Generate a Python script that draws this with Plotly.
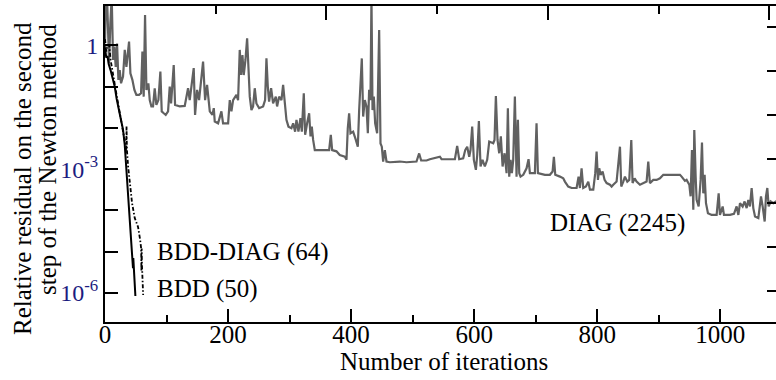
import plotly.graph_objects as go

# ---- data ----
diag_points = [
    (0, 1.12), (1.2, 7.1), (3.3, 15), (5.0, 0.77), (6.6, 0.37), (8.7, 3.4), (10.9, 15),
    (13.1, 0.44), (15.2, 0.93), (17.4, 0.30), (19.6, 1.1), (21.8, 0.145), (23.9, 0.25),
    (26.1, 0.12), (29.3, 0.174), (32.1, 0.77), (34.8, 0.30), (39.1, 1.22), (41.3, 0.21),
    (44.5, 0.145), (47.8, 0.083), (51.0, 0.063), (55.4, 0.063), (58.6, 0.069), (60.8, 0.70),
    (62.9, 0.057), (65.1, 5.4), (67.3, 0.083), (70.5, 0.12), (72.7, 0.047), (75.4, 0.033),
    (78.1, 0.033), (80.8, 0.091), (83.5, 0.036), (86.8, 0.047), (90.0, 0.23), (92.2, 0.025),
    (95.5, 0.0226), (98.7, 0.0206), (102.5, 0.025), (105.2, 0.10), (107.4, 0.039),
    (111.7, 0.33), (113.9, 0.036), (121.5, 0.033), (129.6, 0.034), (135.0, 0.091),
    (137.7, 0.047), (140.5, 0.10), (144.2, 0.28), (146.4, 0.0206), (149.7, 0.083),
    (152.9, 0.047), (156.2, 0.174), (159.4, 0.40), (162.7, 0.047), (165.9, 0.11),
    (170.3, 0.025), (174.6, 0.0206), (176.8, 0.030), (178.4, 0.0142), (183.8, 0.0129),
    (189.2, 0.025), (191.9, 0.0129), (200.1, 0.0129), (202.8, 0.047), (205.5, 0.025),
    (208.2, 0.047), (213.6, 0.063), (216.3, 0.047), (219.0, 0.77), (221.2, 0.19),
    (223.4, 0.58), (225.5, 0.19), (228.3, 0.44), (231.0, 1.48), (233.1, 0.21), (235.3, 0.057),
    (238.0, 0.027), (240.7, 0.033), (243.4, 0.091), (246.1, 0.039), (250.5, 0.030),
    (257.0, 0.033), (260.2, 0.047), (262.4, 0.48), (264.6, 0.10), (266.7, 0.043),
    (270.0, 0.091), (273.2, 0.039), (277.6, 0.057), (279.7, 0.033), (283.0, 0.057),
    (286.8, 0.047), (289.5, 0.11), (292.2, 0.047), (294.9, 0.0156), (298.2, 0.0107),
    (303.0, 0.0098), (305.8, 0.0129), (309.0, 0.0081), (311.2, 0.0156), (314.4, 0.0081),
    (317.7, 0.0171), (319.9, 0.0081), (323.1, 0.069), (325.3, 0.0068), (328.5, 0.0129),
    (331.8, 0.0226), (334.0, 0.0062), (336.1, 0.0107), (338.3, 0.0051), (341.0, 0.0029),
    (349.1, 0.0029), (360.0, 0.0029), (364.3, 0.0029), (367.0, 0.0068), (369.2, 0.0029),
    (376.2, 0.0027), (381.6, 0.0022), (389.8, 0.0020), (392.5, 0.0017), (394.6, 0.0098),
    (396.8, 0.0226), (399.0, 0.0074), (403.3, 0.0081), (407.7, 0.0051), (410.9, 0.0035),
    (413.1, 0.027), (415.2, 0.10), (417.4, 0.48), (419.6, 0.0188), (422.3, 0.047),
    (425.0, 0.033), (427.2, 0.0074), (429.3, 0.083), (431.5, 0.047), (433.1, 15),
    (434.8, 0.027), (436.9, 0.057), (439.1, 0.0129), (442.3, 0.0074), (445.6, 2.34),
    (447.8, 0.0042), (449.9, 0.0035), (452.1, 0.00153), (454.8, 0.0029), (457.5, 0.00153),
    (462.9, 0.00147), (479.2, 0.00153), (490.0, 0.00147), (506.3, 0.00153), (510.6, 0.0024),
    (513.9, 0.00162), (522.6, 0.00162),
    (528.0, 0.00174), (544.3, 0.0020), (547.0, 0.00174), (568.7, 0.00174), (572.4, 0.00366),
    (575.7, 0.00174), (582.2, 0.00184), (585.5, 0.0029), (588.7, 0.0035), (592.0, 0.0020),
    (594.1, 0.0029), (596.8, 0.0107), (599.5, 0.00168), (602.8, 0.00096), (605.0, 0.0022),
    (607.7, 0.0147), (610.4, 0.00116), (613.6, 0.00168), (617.4, 0.00116), (621.2, 0.00168),
    (624.5, 0.00466), (631.0, 0.00425), (633.1, 0.0051), (635.3, 0.059), (638.0, 0.0051),
    (640.7, 0.00243), (643.4, 0.0062), (646.2, 0.00116), (649.4, 0.00243), (652.7, 0.0008),
    (654.8, 0.030), (657.0, 0.00066), (659.2, 0.00168), (661.3, 0.0008), (663.5, 0.00168),
    (666.2, 0.057), (668.9, 0.00066), (671.1, 0.0156), (673.3, 0.0008), (675.4, 0.00066),
    (679.8, 0.00073), (685.2, 0.00105), (688.4, 0.00174), (690.6, 0.0008), (698.7, 0.0008),
    (701.4, 0.0129), (703.6, 0.0008), (715.0, 0.00073), (723.1, 0.00073), (727.5, 0.00088),
    (729.6, 0.0020), (731.8, 0.00073), (739.4, 0.00066), (744.8, 0.0006), (747.5, 0.0005),
    (752.9, 0.00038), (758.4, 0.00035), (766.5, 0.00035), (769.7, 0.00066), (771.9, 0.00035),
    (774.6, 0.00105), (777.3, 0.00035), (781.7, 0.00038), (785.5, 0.0005), (788.2, 0.00032),
    (793.6, 0.00032), (796.8, 0.0008), (799.0, 0.00267), (801.2, 0.00055), (803.3, 0.00105),
    (805.5, 0.00073), (808.8, 0.00088), (812.0, 0.00055), (815.3, 0.00046), (820.7, 0.00042),
    (823.4, 0.00038), (826.1, 0.00042), (831.5, 0.0005), (837.0, 0.0035), (839.1, 0.00038),
    (842.4, 0.0005), (845.1, 0.00066), (848.9, 0.0005), (852.1, 0.00055), (855.4, 0.0051),
    (857.5, 0.00046), (860.8, 0.0006), (864.0, 0.0005), (869.5, 0.00042), (874.9, 0.00046),
    (880.3, 0.0005), (883.0, 0.00153), (885.7, 0.00046), (891.1, 0.00055), (896.6, 0.00055),
    (902.0, 0.0006), (907.4, 0.00073), (912.8, 0.00073), (918.2, 0.00073), (923.7, 0.00073),
    (929.1, 0.0007), (934.5, 0.00073), (937.2, 0.00066), (939.9, 0.0006), (942.6, 0.00052),
    (945.3, 0.00055), (949.7, 0.00042), (951.8, 0.00022), (954.0, 0.0029), (956.2, 0.000104),
    (957.8, 0.0089), (960.0, 0.00066), (961.6, 0.00018), (964.9, 0.000125), (968.1, 0.00055),
    (970.3, 0.0044), (972.4, 0.00026), (974.6, 0.00073), (976.8, 0.00015), (980.0, 0.000086),
    (986.0, 0.000078), (994.1, 0.000078), (997.4, 0.00026), (999.5, 0.000078),
    (1003.9, 0.000125), (1006.0, 0.000078), (1015.8, 0.000078), (1022.3, 0.000083),
    (1026.6, 0.000125), (1029.4, 0.000078), (1032.1, 0.00015), (1036.4, 0.000125),
    (1039.6, 0.000165), (1042.9, 0.000114), (1045.6, 0.00018), (1048.3, 0.000125),
    (1051.0, 0.00035), (1053.7, 0.000114), (1056.5, 0.0000714), (1061.9, 0.0000651),
    (1066.2, 0.00022), (1068.9, 0.000125), (1072.2, 0.000054), (1074.3, 0.00022),
    (1076.5, 0.00035), (1078.7, 0.000125), (1081.9, 0.000165), (1086.3, 0.00015),
    (1090.6, 0.000165), (1100.0, 0.00016),
]

bdd_diag_points = [
    (0, 1.4), (2, 0.7), (4, 1.0), (7, 1.0), (9, 0.45), (12, 0.22), (16, 0.11), (20, 0.05),
    (25, 0.02), (30, 0.008), (33, 0.004), (34.5, 0.0025), (35, 0.011), (35.6, 0.003),
    (37.5, 0.0012), (39.5, 0.0006), (41, 0.0003), (44, 0.00015), (48.3, 0.000066),
    (53.7, 0.00004), (57, 0.00002), (58.8, 0.000012), (59.2, 0.0000034), (59.6, 0.000012),
    (60, 0.000005), (62, 0.0000009),
]

bdd_points = [
    (0, 0.9), (2, 0.5), (4, 0.55), (6, 0.35), (9, 0.25), (12, 0.16), (15.8, 0.1), (19, 0.05),
    (22, 0.03), (26, 0.017), (29.3, 0.009), (32, 0.004), (34.8, 0.001), (37, 0.0004),
    (39.1, 0.0001), (41.5, 0.00003), (44, 0.00001), (45.5, 0.000004), (46, 0.000007),
    (46.8, 0.0000035), (47.5, 0.000002), (49.4, 0.00000085),
]

x_tick_vals = [0, 200, 400, 600, 800, 1000]
x_tick_text = ["0", "200", "400", "600", "800", "1000"]
y_tick_vals = [1e-6, 1e-3, 1]
y_tick_text = ["10<sup>-6</sup>", "10<sup>-3</sup>", "1"]

FONT = "Liberation Serif"
XR = [0, 1090.6]
YR = [-6.70, 0.95]

fig = go.Figure()
fig.add_trace(go.Scatter(x=[p[0] for p in diag_points], y=[p[1] for p in diag_points],
                         mode="lines", line=dict(color="#616161", width=2.2),
                         showlegend=False, hoverinfo="skip"))
fig.add_trace(go.Scatter(x=[p[0] for p in bdd_diag_points], y=[p[1] for p in bdd_diag_points],
                         mode="lines", line=dict(color="black", width=1.8, dash="4px,2px,1.5px,2px"),
                         showlegend=False, hoverinfo="skip"))
fig.add_trace(go.Scatter(x=[p[0] for p in bdd_points], y=[p[1] for p in bdd_points],
                         mode="lines", line=dict(color="black", width=2),
                         showlegend=False, hoverinfo="skip"))
fig.add_trace(go.Scatter(x=[None], y=[None], xaxis="x2", yaxis="y2",
                         showlegend=False, hoverinfo="skip"))

fig.update_layout(
    width=776, height=380,
    margin=dict(l=105, r=0, t=6, b=58, autoexpand=False),
    paper_bgcolor="white", plot_bgcolor="white",
    font=dict(family=FONT, size=25, color="black"),
    xaxis=dict(range=XR, tickmode="array", tickvals=x_tick_vals, ticktext=x_tick_text,
               ticks="inside", ticklen=13, tickwidth=2, tickcolor="black",
               minor=dict(tickmode="array", tickvals=[100, 300, 500, 700, 900],
                          ticks="inside", ticklen=7, tickwidth=2, tickcolor="black"),
               showline=True, linewidth=2, linecolor="black",
               showgrid=False, zeroline=False, automargin=False,
               ticklabelstandoff=-11,
               tickfont=dict(family=FONT, size=25, color="black")),
    yaxis=dict(type="log", range=YR, tickmode="array", tickvals=y_tick_vals,
               ticktext=y_tick_text, ticks="inside", ticklen=13, tickwidth=2,
               tickcolor="black",
               minor=dict(tickmode="array", tickvals=[1e-5, 1e-4, 1e-2, 1e-1],
                          ticks="inside", ticklen=13, tickwidth=2, tickcolor="black"),
               showline=True, linewidth=2, linecolor="black",
               showgrid=False, zeroline=False, automargin=False,
               tickfont=dict(family=FONT, size=24, color="#1c1c80")),
    xaxis2=dict(overlaying="x", side="top", anchor="y", range=XR,
                tickmode="array", tickvals=[360, 720, 1080], showticklabels=False,
                ticks="inside", ticklen=14, tickwidth=2, tickcolor="black",
                minor=dict(tickmode="array", tickvals=[180, 540, 900],
                           ticks="inside", ticklen=8, tickwidth=2, tickcolor="black"),
                showline=True, linewidth=2, linecolor="black", automargin=False,
                showgrid=False, zeroline=False),
    yaxis2=dict(overlaying="y", side="right", anchor="x", type="log", range=YR,
                tickmode="array",
                tickvals=[2.82, 0.243, 0.0204, 0.00178, 0.000151, 1.29e-5, 1.10e-6],
                showticklabels=False, ticks="inside", ticklen=9, tickwidth=2,
                tickcolor="black", showline=False, showgrid=False, zeroline=False,
                automargin=False),
)

annots = [
    dict(text="BDD-DIAG (64)", x=80.8, y=-5.0, xanchor="left", yanchor="middle"),
    dict(text="BDD (50)", x=80.8, y=-5.9, xanchor="left", yanchor="middle"),
    dict(text="DIAG (2245)", x=720, y=-4.3, xanchor="left", yanchor="middle"),
]
for a in annots:
    fig.add_annotation(xref="x", yref="y", showarrow=False,
                       font=dict(family=FONT, size=25, color="black"), **a)

fig.add_annotation(xref="paper", yref="paper", x=(22 - 105) / 671, y=(322 - 179) / 316,
                   text="Relative residual on the second", textangle=-90, showarrow=False,
                   xanchor="center", yanchor="middle",
                   font=dict(family=FONT, size=25, color="black"))
fig.add_annotation(xref="paper", yref="paper", x=(47 - 105) / 671, y=(322 - 160) / 316,
                   text="step of the Newton method", textangle=-90, showarrow=False,
                   xanchor="center", yanchor="middle",
                   font=dict(family=FONT, size=25, color="black"))
fig.add_annotation(xref="paper", yref="paper", x=(444 - 105) / 671, y=(322 - 361) / 316,
                   text="Number of iterations", showarrow=False,
                   xanchor="center", yanchor="middle",
                   font=dict(family=FONT, size=25, color="black"))

fig.write_html("out.html", config={"displayModeBar": False},
               post_script="document.body.style.margin='0px';")
